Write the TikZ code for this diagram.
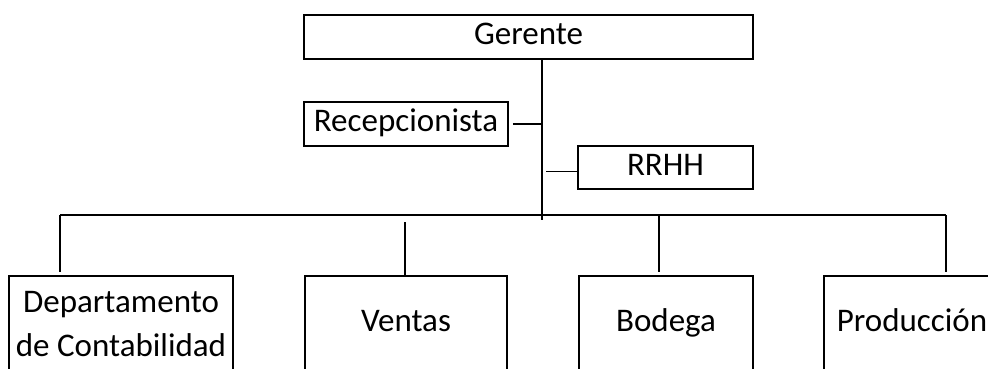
\documentclass[tikz,border=0pt]{standalone}
\usepackage{fontspec}
\setmainfont{Carlito}
\usetikzlibrary{positioning,calc}

\begin{document}
\begin{tikzpicture}[x=1pt, y=-1pt, line width=1.6pt,
        font=\fontsize{33}{44}\selectfont,
        box/.style={draw, inner sep=0pt, align=center, text height=23pt, text depth=8pt},
        bigbox/.style={draw, inner sep=0pt, align=center, minimum height=96pt}]
        \useasboundingbox (0,0) rectangle (988,369);
        \clip (0,0) rectangle (988,369);

        % Top
        \node[box, minimum width=449pt, minimum height=44pt] (gerente) at (528.5,37) {Gerente};
        \node[box, minimum width=204pt, minimum height=44pt] (recep) at (406,124) {Recepcionista};
        \node[box, minimum width=175pt, minimum height=43pt] (rrhh) at (665.5,167.5) {RRHH};

        % Departments
        \node[bigbox, minimum width=224pt] (depto) at (121,324) {Departamento\\de Contabilidad};
        \node[bigbox, box, minimum width=202pt] (ventas) at (406,324) {Ventas};
        \node[bigbox, box, minimum width=174pt] (bodega) at (666,324) {Bodega};
        \node[bigbox, box, minimum width=176pt] (produccion) at (912,324) {Producción};

        % Connections
        \coordinate (trunk) at (542,220);
        \draw (gerente.south -| trunk) -- (trunk);
        \draw ([xshift=4pt]recep.east) -- (recep.east -| trunk); % Recepcionista
        \draw ([xshift=4pt,yshift=-4pt]rrhh.west -| trunk) -- ([yshift=-4pt]rrhh.west); % RRHH

        \coordinate (busL) at (60,215);
        \coordinate (busR) at (946,215);
        \draw (busL) -- (busR);

        \foreach \n/\x in {depto/60, bodega/659, produccion/946} {
            \coordinate (d\n) at (\x,215);
            \draw[shorten >=3pt] (d\n) -- (d\n |- \n.north);
        }
        \coordinate (dventas) at (405,222);
        \draw[shorten >=-2pt] (dventas) -- (dventas |- ventas.north);
    \end{tikzpicture}
\end{document}
